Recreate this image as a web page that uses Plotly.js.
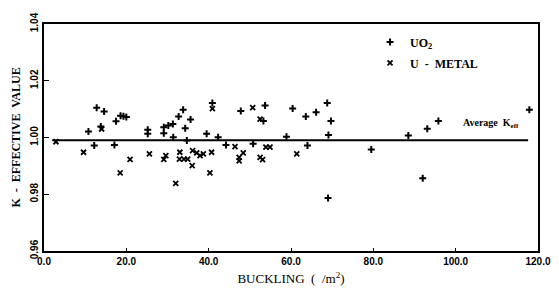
<!DOCTYPE html>
<html>
<head>
<meta charset="utf-8">
<script src="https://cdn.plot.ly/plotly-3.0.1.min.js"></script>
<style>html,body{margin:0;padding:0;background:#fff}#chart{width:559px;height:296px}</style>
</head>
<body>
<div id="chart"></div>
<script>
// UO2 samples (buckling, k-eff)
const uo2X = [12.8,14.6,10.8,13.8,12.2,17.1,17.5,18.6,19.3,20.0,25.2,25.2,29.1,30.2,31.3,29.1,32.7,33.8,35.6,34.3,31.4,34.7,39.5,40.9,42.3,44.2,47.8,50.8,53.7,53.3,58.9,60.4,63.6,66.1,68.8,69.7,69.1,64.0,79.5,69.0,88.5,93.1,95.8,92.0,117.9];
const uo2Y = [1.0105,1.0092,1.0021,1.0039,0.9972,0.9974,1.0057,1.0077,1.0075,1.0072,1.0027,1.0013,1.0036,1.0042,1.0048,1.0015,1.0074,1.0098,1.0063,1.0033,1.0001,0.9989,1.0013,1.0122,1.0001,0.9974,1.0093,0.9978,1.0113,1.0058,1.0003,1.0102,1.0074,1.0089,1.0122,1.0058,1.0009,0.9972,0.9958,0.9787,1.0007,1.0031,1.0058,0.9856,1.0098];
// U-metal samples
const metalX = [2.9,9.6,14.0,20.9,18.5,25.6,29.1,29.6,33.0,32.9,34.0,34.9,36.1,36.0,37.1,37.9,38.7,40.7,40.3,32.0,40.9,50.7,52.5,46.4,48.4,47.4,47.4,52.5,53.1,53.9,54.9,61.4];
const metalY = [0.9985,0.9948,1.0030,0.9923,0.9875,0.9942,0.9923,0.9936,0.9948,0.9924,0.9924,0.9924,0.9954,0.9901,0.9946,0.9936,0.9942,0.9948,0.9875,0.9838,1.0102,1.0105,1.0065,0.9968,0.9946,0.9930,0.9918,0.9930,0.9922,0.9966,0.9966,0.9942];
// average k-eff line
const avgX = [2.0, 117.6];
const avgY = [0.999, 0.999];
const xTicks = [0,20,40,60,80,100,120];
const xTickText = ["0.0","20.0","40.0","60.0","80.0","100.0","120.0"];
const yTicks = [0.96,0.98,1.00,1.02,1.04];
const yTickText = ["0.96","0.98","1.00","1.02","1.04"];

const traces = [
  {x: uo2X, y: uo2Y, mode: 'markers', type: 'scatter', name: 'UO<sub>2</sub>', legendgroup: 'a',
   marker: {symbol: 'cross-thin-open', size: 5, color: '#000', line: {width: 2, color: '#000'}}},
  {x: metalX, y: metalY, mode: 'markers', type: 'scatter', name: 'U  -  METAL', legendgroup: 'b',
   marker: {symbol: 'x-thin-open', size: 5, color: '#000', line: {width: 1.8, color: '#000'}}},
  {x: avgX, y: avgY, mode: 'lines', type: 'scatter', showlegend: false,
   line: {color: '#000', width: 2}}
];

const layout = {
  width: 559, height: 296,
  margin: {l: 44, r: 21, t: 24, b: 45},
  paper_bgcolor: '#fff', plot_bgcolor: '#fff',
  showlegend: true,
  legend: {x: 0.66, y: 0.985, xanchor: 'left', yanchor: 'top', bgcolor: 'rgba(0,0,0,0)',
           font: {family: 'Liberation Serif', size: 12, color: '#000', weight: 'bold'},
           itemwidth: 30, tracegroupgap: 2, traceorder: 'grouped'},
  xaxis: {range: [0, 120], tickvals: xTicks, ticktext: xTickText, showgrid: false, zeroline: false,
          showline: true, linecolor: '#000', linewidth: 2, mirror: true,
          ticks: 'inside', ticklen: 3, tickcolor: '#000',
          tickfont: {family: 'Liberation Sans', size: 10, color: '#000', weight: 'bold'},
          title: {text: 'BUCKLING  (  /m<sup>2</sup>)', standoff: 8,
                  font: {family: 'Liberation Serif', size: 13, color: '#000'}}},
  yaxis: {range: [0.96, 1.04], tickvals: yTicks, ticktext: yTickText, showgrid: false, zeroline: false,
          showline: true, linecolor: '#000', linewidth: 2, mirror: true,
          ticks: 'inside', ticklen: 5, tickcolor: '#000', tickangle: -90,
          tickfont: {family: 'Liberation Sans', size: 10, color: '#000', weight: 'bold'},
          title: {text: 'K  -  EFFECTIVE  VALUE', standoff: 6,
                  font: {family: 'Liberation Sans Narrow', size: 12, color: '#000', weight: 'bold'}}},
  annotations: [
    {x: 108.5, y: 1.0048, xref: 'x', yref: 'y', showarrow: false,
     text: 'Average  K<sub>eff</sub>',
     font: {family: 'Liberation Serif', size: 10, color: '#000', weight: 'bold'}}
  ]
};

Plotly.newPlot('chart', traces, layout, {displayModeBar: false, staticPlot: true});
</script>
</body>
</html>
